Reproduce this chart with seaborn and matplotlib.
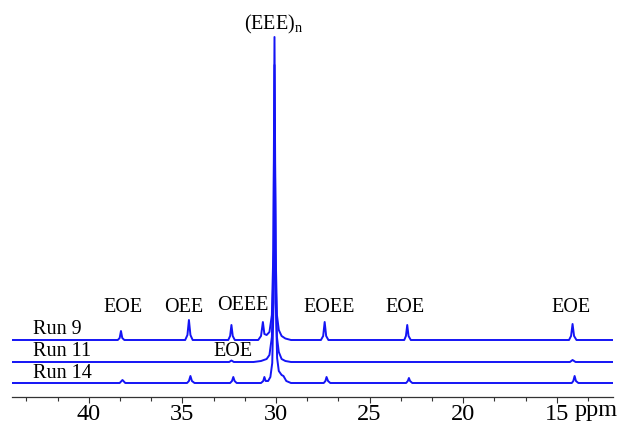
"""13C NMR spectra of three runs, stacked, with peak assignments."""

import matplotlib
matplotlib.use("Agg")
import matplotlib.pyplot as plt
from matplotlib.ticker import AutoMinorLocator
import pandas as pd
import seaborn as sns

# spectrum vertices (ppm, intensity above own baseline)
run9_ppm = [44.1, 38.45, 38.35, 38.28, 38.21, 38.1,
            34.85, 34.73, 34.65, 34.57, 34.45,
            32.55, 32.45, 32.38, 32.31, 32.2,
            30.95, 30.8, 30.7, 30.62, 30.5, 30.35, 30.22, 30.14, 30.08, 30.02,
            29.95, 29.85, 29.7, 29.5, 29.2,
            27.6, 27.48, 27.4, 27.32, 27.2,
            23.15, 23.06, 22.99, 22.92, 22.8,
            14.35, 14.24, 14.16, 14.08, 13.95, 12.0]
run9_int = [0, 0, 2, 9, 2, 0,
            0, 5, 20, 5, 0,
            0, 4, 15, 4, 0,
            0, 4, 18, 6, 5, 8, 25, 90, 303, 90,
            25, 10, 4, 1.5, 0,
            0, 4, 18, 4, 0,
            0, 4, 15, 4, 0,
            0, 4, 16, 4, 0, 0]

run11_ppm = [44.1, 32.5, 32.38, 32.25, 31.2, 30.8, 30.5, 30.35, 30.22, 30.14,
             30.08, 30.02, 29.95, 29.85, 29.7, 29.5, 29.2, 14.3, 14.16, 14.0, 12.0]
run11_int = [0, 0, 1.5, 0, 0, 1, 3, 7, 25, 90,
             297, 90, 25, 10, 3, 1, 0, 0, 2, 0, 0]

run14_ppm = [44.1, 38.35, 38.2, 38.05,
             34.75, 34.65, 34.57, 34.49, 34.35,
             32.45, 32.35, 32.28, 32.21, 32.1,
             30.8, 30.68, 30.62, 30.55, 30.42, 30.3, 30.2, 30.13, 30.07, 30.01,
             29.94, 29.85, 29.7, 29.6, 29.45, 29.2,
             27.45, 27.36, 27.3, 27.22, 27.1,
             23.05, 22.96, 22.9, 22.84, 22.72,
             14.2, 14.12, 14.05, 13.98, 13.85, 12.0]
run14_int = [0, 0, 3, 0,
             0, 2, 7, 2, 0,
             0, 2, 6, 2, 0,
             0, 2, 6, 2, 2, 6, 20, 80, 263, 80,
             25, 12, 8, 7, 2, 0,
             0, 2, 6, 2, 0,
             0, 2, 5, 2, 0,
             0, 2, 7, 2, 0, 0]

run_names = ["Run 9", "Run 11", "Run 14"]
peak_names = ["EOE", "OEE", "OEEE", "EOEE", "EOE", "EOE"]
peak_ppm = [38.19, 34.92, 31.76, 27.18, 23.09, 14.26]
x_ticks = [40, 35, 30, 25, 20, 15]

# layout (stack offsets, label heights)
offsets = [57, 35, 14]
label_y = [68, 46, 24]
BLUE = "#1414f5"

sns.set_theme(style="white")
plt.rcParams["font.family"] = ["Liberation Serif", "DejaVu Serif"]
plt.rcParams["mathtext.default"] = "regular"
plt.rcParams["text.color"] = "black"
plt.rcParams["axes.labelcolor"] = "black"
plt.rcParams["xtick.color"] = "black"

frames = []
for name, ppm, inten, off in zip(run_names, [run9_ppm, run11_ppm, run14_ppm],
                                 [run9_int, run11_int, run14_int], offsets):
    frames.append(pd.DataFrame({"ppm": ppm,
                                "y": [v + off for v in inten],
                                "run": name}))
df = pd.concat(frames, ignore_index=True)

fig = plt.figure(figsize=(6.2, 4.26), dpi=100)
ax = fig.add_axes([12 / 620, 29 / 426, 601 / 620, 377 / 426])
sns.lineplot(data=df, x="ppm", y="y", units="run", estimator=None,
             color=BLUE, linewidth=1.4, sort=False, ax=ax, legend=False)

ax.set_xlim(44.1, 12.0)
ax.set_ylim(0, 377)
ax.set_xticks(x_ticks)
ax.set_xticklabels([str(t) for t in x_ticks], fontsize=17.5)
ax.xaxis.set_minor_locator(AutoMinorLocator(3))
ax.tick_params(axis="x", which="major", direction="out", length=4, width=0.8,
               color="#333333", labelcolor="black", bottom=True, pad=1)
ax.tick_params(axis="x", which="minor", direction="out", length=3, width=0.8,
               color="#333333", bottom=True)
ax.set_yticks([])
ax.set_ylabel("")
for side in ["top", "left", "right"]:
    ax.spines[side].set_visible(False)
ax.spines["bottom"].set_color("#333333")
ax.spines["bottom"].set_linewidth(0.9)

ax.set_xlabel("ppm", fontsize=17.5, color="black")
ax.xaxis.set_label_coords(0.972, -0.008)

for name, yy in zip(run_names, label_y):
    ax.text(43.0, yy, name, fontsize=14.5, ha="left", va="center")
for name, pos in zip(peak_names, peak_ppm):
    ax.text(pos, 89 if name != "OEEE" else 91, name, fontsize=14.5,
            ha="center", va="center")
ax.text(32.3, 46, "EOE", fontsize=14.5, ha="center", va="center")
ax.text(30.1, 373, r"(EEE)$_{n}$", fontsize=14.5, ha="center", va="center")

fig.savefig("out.png", dpi=100)
